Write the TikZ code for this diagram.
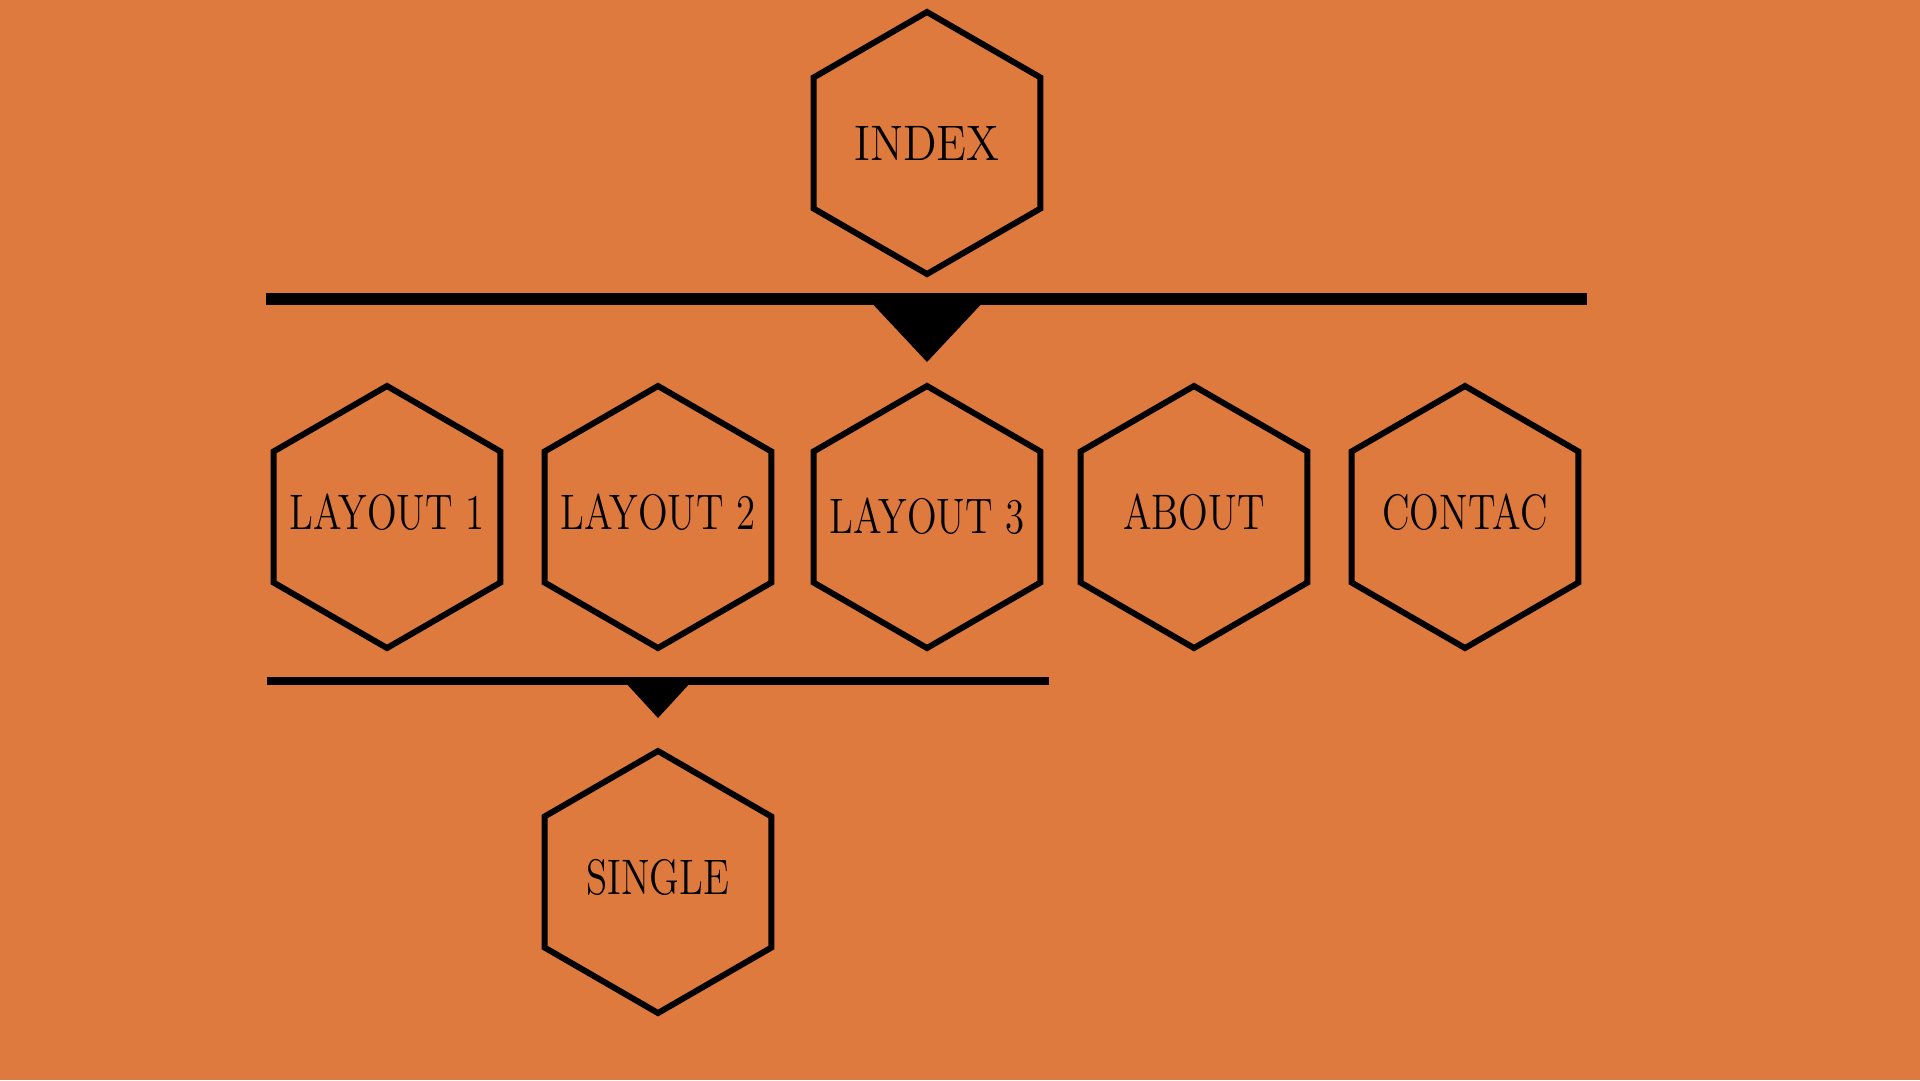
\documentclass[tikz,border=0pt]{standalone}
\usepackage{graphicx}
\usetikzlibrary{shapes.geometric}
\definecolor{bgorange}{RGB}{223,122,63}
\tikzset{
  hexnode/.style={regular polygon, regular polygon sides=6, shape border rotate=30,
    minimum size=26.2mm, inner sep=0pt, draw=black, line width=0.6mm},
  hextext/.style={inner sep=0pt, font=\fontsize{14.2}{17}\selectfont},
  busthick/.style={line width=1.2mm, draw=black},
  busthin/.style={line width=0.8mm, draw=black},
  tri/.style={fill=black, draw=none}
}
\newcommand{\hx}[2][0.78]{\scalebox{#1}[1]{#2}}
\begin{document}
\begin{tikzpicture}[x=0.1mm,y=-0.1mm]
\useasboundingbox (0,0) rectangle (1920,1080);
\fill[bgorange] (0,0) rectangle (1920,1080);

\node[hexnode] (index) at (927,143) {};
\node[hexnode] (lay1) at (387,517) {};
\node[hexnode] (lay2) at (658,517) {};
\node[hexnode] (lay3) at (927,517) {};
\node[hexnode] (about) at (1194,517) {};
\node[hexnode] (contac) at (1465,517) {};
\node[hexnode] (single) at (658,882) {};

\node[hextext] (indext) at (index) {\hx[0.9]{INDEX}};
\node[hextext, yshift=0.45mm] (lay1t) at (lay1) {\hx{LAYOUT 1}};
\node[hextext, yshift=0.45mm] (lay2t) at (lay2) {\hx{LAYOUT 2}};
\node[hextext, yshift=0.1mm] (lay3t) at (lay3) {\hx{LAYOUT 3}};
\node[hextext, yshift=0.45mm] (aboutt) at (about) {\hx{ABOUT}};
\node[hextext, yshift=0.45mm] (contact) at (contac) {\hx{CONTAC}};
\node[hextext, yshift=0.45mm] (singlet) at (single) {\hx{SINGLE}};

% bus below INDEX
\coordinate (b1l) at (266,299);
\coordinate (b1r) at (1587,299);
\coordinate (t1a) at (868,299);
\coordinate (t1b) at (986,299);
\coordinate (t1c) at (927,362);
\draw[busthick] (b1l) -- (b1r);
\fill[tri] (t1a) -- (t1b) -- (t1c) -- cycle;

% bus below LAYOUT row
\coordinate (b2l) at (267,681);
\coordinate (b2r) at (1049,681);
\coordinate (t2a) at (624,681);
\coordinate (t2b) at (692,681);
\coordinate (t2c) at (658,718);
\draw[busthin] (b2l) -- (b2r);
\fill[tri] (t2a) -- (t2b) -- (t2c) -- cycle;
\end{tikzpicture}
\end{document}
